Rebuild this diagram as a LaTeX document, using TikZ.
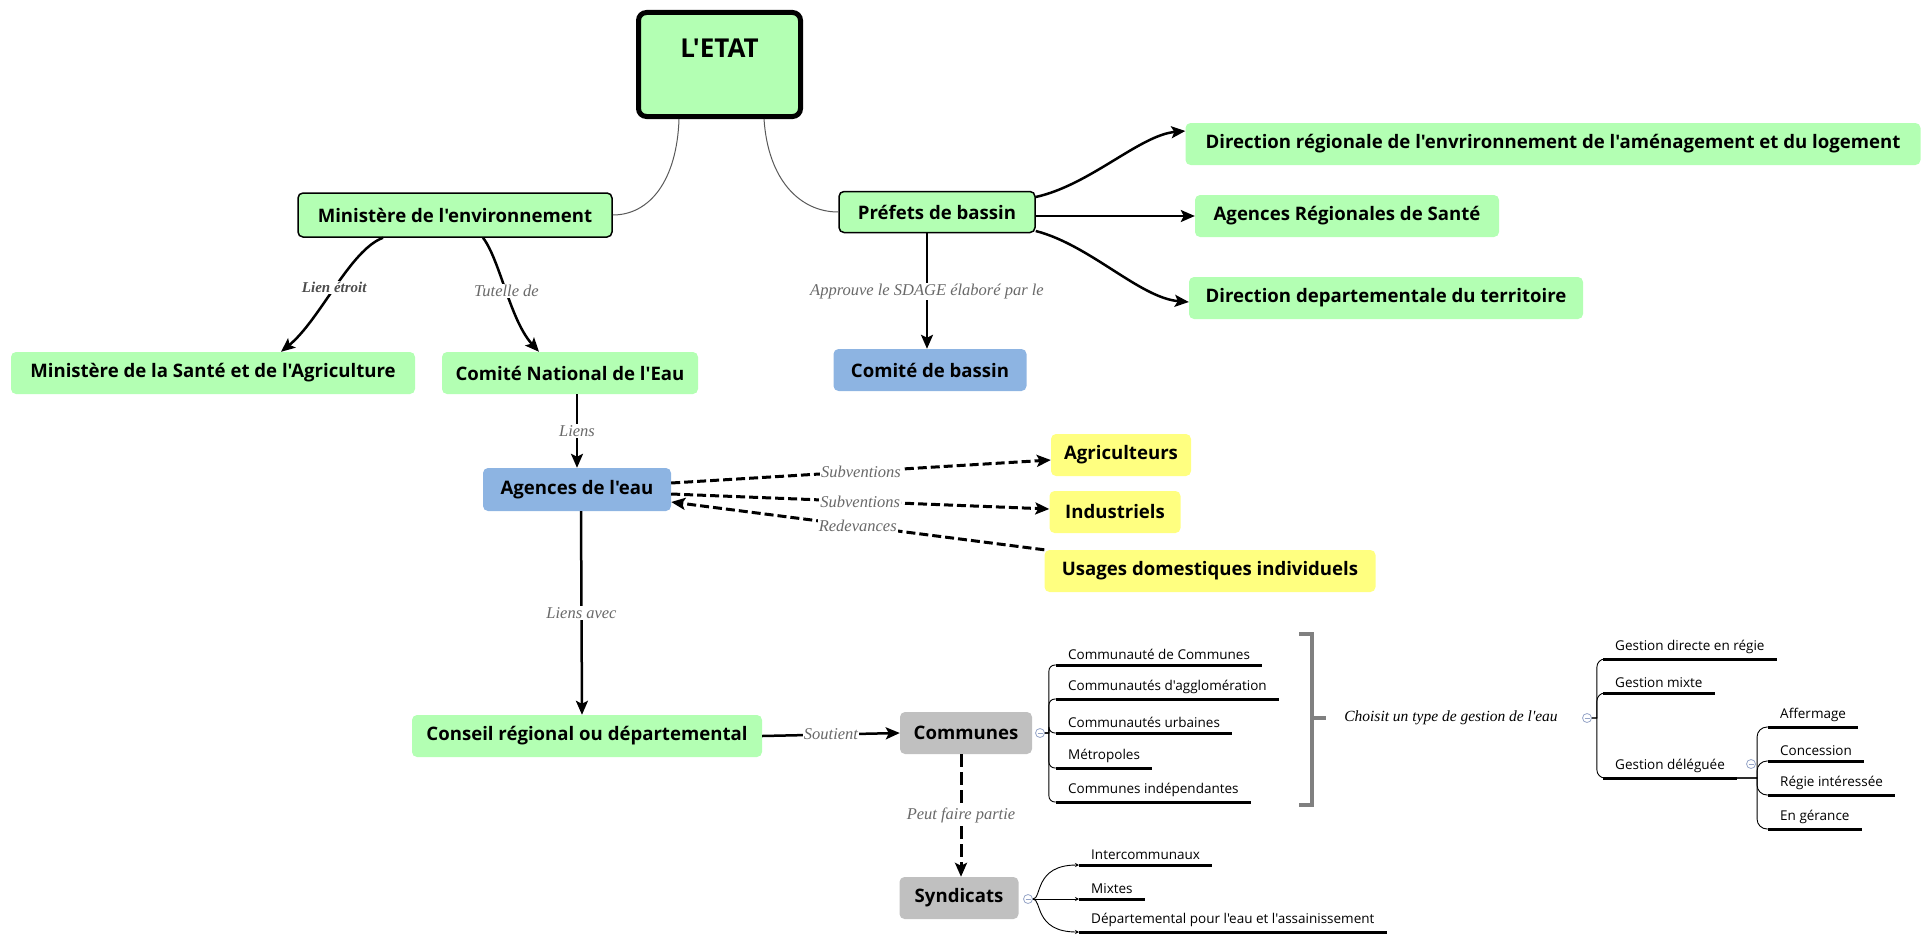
\documentclass[tikz,border=0pt]{standalone}
\usepackage{fontspec}
\setmainfont{Open Sans}[Ligatures=TeXOff]
\newfontfamily\serifit{Liberation Serif}
\usetikzlibrary{arrows.meta}

\definecolor{boxgreen}{RGB}{179,255,179}
\definecolor{boxblue}{RGB}{141,180,226}
\definecolor{boxyellow}{RGB}{255,255,128}
\definecolor{boxgrey}{RGB}{192,192,192}
\definecolor{lblgrey}{RGB}{105,105,105}
\definecolor{toggrey}{RGB}{150,165,200}
\definecolor{brackgrey}{RGB}{128,128,128}

\begin{document}
\begin{tikzpicture}[x=1pt, y=-1pt,
  box/.style={rounded corners=5pt, inner sep=0pt, minimum height=42pt, font=\fontsize{18.6}{22}\selectfont\bfseries},
  gbox/.style={box, fill=boxgreen},
  bbox/.style={box, fill=boxblue},
  ybox/.style={box, fill=boxyellow},
  sbox/.style={box, fill=boxgrey},
  lbl/.style={font=\serifit\itshape\fontsize{16.5}{18}\selectfont, text=lblgrey, fill=white, inner sep=1pt},
  arr/.style={line width=2.5pt, -{Stealth[length=14pt, width=12pt, inset=3pt]}},
  darr/.style={arr, line width=3pt, dash pattern=on 9pt off 4pt},
  stem/.style={line width=1pt, draw=black!65},
  twig/.style={line width=0.9pt},
  leaf/.style={font=\fontsize{13.5}{16}\selectfont, inner xsep=12pt, inner ysep=5pt, anchor=south west},
  uline/.style={line width=3pt},
  tog/.style={circle, draw=toggrey, line width=0.8pt, fill=white, minimum size=9pt, inner sep=0pt,
    path picture={\draw[toggrey, line width=0.8pt] ([xshift=-2.5pt]path picture bounding box.center) -- ([xshift=2.5pt]path picture bounding box.center);}}
]
\useasboundingbox (0,0) rectangle (1926,934);

% top of the map
\node [gbox, draw, line width=5pt, rounded corners=8pt, minimum width=162pt, text height=44.5pt, text depth=59.5pt, font=\fontsize{26}{30}\selectfont\bfseries] (etat) at (719.5,64.5) {L'ETAT};
\node [gbox, draw, line width=1.5pt, minimum width=314pt, minimum height=44pt] (minenv) at (455,215) {Ministère de l'environnement};
\node [gbox, draw, line width=1.5pt, minimum width=196pt, minimum height=41pt] (prefets) at (937,212) {Préfets de bassin};

\node [gbox, minimum width=404pt] (minsante) at (213,373) {Ministère de la Santé et de l'Agriculture};
\node [gbox, minimum width=256pt] (cne) at (570,373) {Comité National de l'Eau};
\node [bbox, minimum width=193pt] (cbassin) at (930,370) {Comité de bassin};

\node [gbox, minimum width=735pt] (dreal) at (1553,144) {Direction régionale de l'envrironnement de l'aménagement et du logement};
\node [gbox, minimum width=304pt] (ars) at (1347,216) {Agences Régionales de Santé};
\node [gbox, minimum width=394pt] (ddt) at (1386,298) {Direction departementale du territoire};

% agences and users
\node [bbox, minimum width=188pt, minimum height=43pt] (agences) at (577,489.5) {Agences de l'eau};
\node [ybox, minimum width=140pt] (agri) at (1121,455) {Agriculteurs};
\node [ybox, minimum width=131pt] (indus) at (1115,512) {Industriels};
\node [ybox, minimum width=331pt] (usages) at (1210,571) {Usages domestiques individuels};

% bottom
\node [gbox, minimum width=350pt] (conseil) at (587,736) {Conseil régional ou départemental};
\node [sbox, minimum width=132pt] (communes) at (966,733) {Communes};
\node [sbox, minimum width=119pt] (syndicats) at (959,898) {Syndicats};

% links
\draw [stem] ([xshift=-40.5pt]etat.south) .. controls (677,180) and (650,215) .. (minenv.east);
\draw [stem] ([xshift=44.5pt]etat.south) .. controls (768,180) and (800,212) .. (prefets.west);

\draw [arr] ([xshift=-72pt]minenv.south) .. controls (350,250) and (320,320) .. node[lbl, pos=0.5, font=\serifit\itshape\bfseries\fontsize{15}{18}\selectfont, text=black!70] {Lien étroit} ([xshift=68pt]minsante.north);
\draw [arr] ([xshift=28pt]minenv.south) .. controls (500,260) and (510,320) .. node[lbl, pos=0.5] {Tutelle de} ([xshift=-31pt]cne.north);
\draw [arr] ([xshift=-10pt]prefets.south) -- node[lbl] {Approuve le SDAGE élaboré par le} ([xshift=-3pt]cbassin.north);
\draw [arr] ([yshift=15pt]prefets.east) .. controls (1090,185) and (1140,135) .. ([yshift=13pt]dreal.west);
\draw [arr] ([yshift=-4pt]prefets.east) -- (ars.west);
\draw [arr] ([yshift=-19pt]prefets.east) .. controls (1090,245) and (1140,298) .. ([yshift=-4pt]ddt.west);

\draw [arr] ([xshift=7pt]cne.south) -- node[lbl] {Liens} (agences.north);
\draw [darr] ([yshift=6.5pt]agences.east) -- node[lbl] {Subventions} ([yshift=-5pt]agri.west);
\draw [darr] ([yshift=-4.5pt]agences.east) -- node[lbl] {Subventions} ([yshift=3pt]indus.west);
\draw [darr] (usages.north west) -- node[lbl] {Redevances} ([yshift=-12.5pt]agences.east);

\draw [arr] ([xshift=4pt]agences.south) -- node[lbl] {Liens avec} ([xshift=-5pt]conseil.north);
\draw [arr] (conseil.east) -- node[lbl] {Soutient} (communes.west);
\draw [arr, line width=3pt, dash pattern=on 13pt off 5pt] ([xshift=-5pt]communes.south) -- node[lbl] {Peut faire partie} ([xshift=2pt]syndicats.north);

% communes branch
\node [tog] (ctog) at (1040,733) {};
\node [leaf] (c1) at (1056,665) {Communauté de Communes};
\node [leaf] (c2) at (1056,699) {Communautés d'agglomération};
\node [leaf] (c3) at (1056,733) {Communautés urbaines};
\node [leaf] (c4) at (1056,768) {Métropoles};
\node [leaf] (c5) at (1056,802) {Communes indépendantes};
\foreach \n in {c1,c2,c3,c4,c5}
  \draw [twig] (ctog.east) -- ++(4,0) [rounded corners=6pt] |- (\n.south west);

% syndicats branch
\node [tog] (stog) at (1028,899) {};
\node [leaf] (s1) at (1079,865) {Intercommunaux};
\node [leaf] (s2) at (1079,899) {Mixtes};
\node [leaf] (s3) at (1079,932) {Départemental pour l'eau et l'assainissement};
\draw [twig, -{Stealth[length=4pt, width=4pt]}] (stog.east) .. controls (1042,899) and (1034,865) .. (s1.south west);
\draw [twig, -{Stealth[length=4pt, width=4pt]}] (stog.east) -- (s2.south west);
\draw [twig, -{Stealth[length=4pt, width=4pt]}] (stog.east) .. controls (1042,899) and (1034,932) .. (s3.south west);

% bracket and gestion
\node [font=\serifit\itshape\fontsize{15.5}{18}\selectfont, inner sep=1pt] (choisit) at (1451,718) {Choisit un type de gestion de l'eau};
\draw [brackgrey, line width=4pt] (1299,634) -| (1312,805) -- (1299,805);
\draw [brackgrey, line width=4pt] (1312,718) -- ([xshift=-17pt]choisit.west);

\node [tog] (gtog) at (1587,718) {};
\node [leaf] (g1) at (1603,659) {Gestion directe en régie};
\node [leaf] (g2) at (1603,693) {Gestion mixte};
\node [leaf] (g3) at (1603,778) {Gestion déléguée};
\foreach \n in {g1,g2,g3}
  \draw [twig] (gtog.east) -- ++(5,0) [rounded corners=8pt] |- (\n.south west);

\node [leaf] (d1) at (1768,727) {Affermage};
\node [leaf] (d2) at (1768,761) {Concession};
\node [leaf] (d3) at (1768,795) {Régie intéressée};
\node [leaf] (d4) at (1768,829) {En gérance};
\foreach \n in {d1,d2,d3,d4}
  \draw [twig] (g3.south east) -- ++(20,0) [rounded corners=10pt] |- (\n.south west);
\node [tog] (dtog) at (1751,764) {};

\foreach \n in {c1,c2,c3,c4,c5,s1,s2,s3,g1,g2,g3,d1,d2,d3,d4}
  \draw [uline] (\n.south west) -- (\n.south east);
\end{tikzpicture}
\end{document}
